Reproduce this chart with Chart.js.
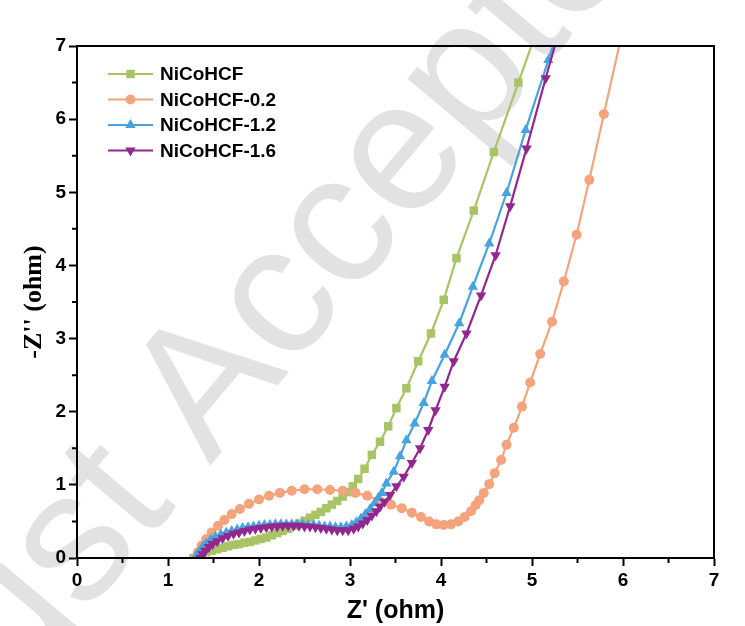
<!DOCTYPE html>
<html>
<head>
<meta charset="utf-8">
<script src="https://cdn.jsdelivr.net/npm/chart.js@4.4.1/dist/chart.umd.min.js"></script>
<style>
  body { margin: 0; background: #fff; }
  #wrap { width: 745px; height: 626px; }
</style>
</head>
<body>
<div id="wrap"><canvas id="myChart" width="745" height="626"></canvas></div>
<script>
// series names
const seriesNames = ['NiCoHCF', 'NiCoHCF-0.2', 'NiCoHCF-1.2', 'NiCoHCF-1.6'];

// [Z', -Z''] points
const nicohcf = [
    [1.28, 0.00], [1.32, 0.03], [1.37, 0.06], [1.42, 0.08], [1.48, 0.10], [1.54, 0.12],
    [1.60, 0.14], [1.66, 0.16], [1.72, 0.18], [1.78, 0.19], [1.84, 0.21], [1.90, 0.22],
    [1.96, 0.24], [2.02, 0.26], [2.08, 0.28], [2.14, 0.31], [2.20, 0.34], [2.26, 0.37],
    [2.32, 0.40], [2.38, 0.44], [2.44, 0.47], [2.50, 0.51], [2.56, 0.55], [2.62, 0.59],
    [2.68, 0.63], [2.74, 0.68], [2.80, 0.73], [2.86, 0.78], [2.92, 0.84], [2.97, 0.90],
    [3.03, 0.98], [3.09, 1.08], [3.16, 1.22], [3.24, 1.41], [3.33, 1.59], [3.42, 1.80],
    [3.51, 2.05], [3.62, 2.32], [3.75, 2.69], [3.89, 3.07], [4.03, 3.53], [4.17, 4.10],
    [4.36, 4.75], [4.58, 5.55], [4.85, 6.50], [5.15, 7.55]
];
const nicohcf02 = [
    [1.30, 0.00], [1.33, 0.08], [1.37, 0.17], [1.42, 0.26], [1.48, 0.35], [1.55, 0.44],
    [1.62, 0.52], [1.70, 0.60], [1.79, 0.67], [1.89, 0.74], [2.00, 0.80], [2.11, 0.85],
    [2.23, 0.89], [2.36, 0.92], [2.50, 0.94], [2.64, 0.94], [2.78, 0.93], [2.92, 0.92],
    [3.06, 0.89], [3.19, 0.85], [3.32, 0.79], [3.45, 0.73], [3.57, 0.68], [3.68, 0.62],
    [3.78, 0.56], [3.87, 0.50], [3.95, 0.46], [4.03, 0.45], [4.11, 0.46], [4.19, 0.50],
    [4.26, 0.56], [4.33, 0.64], [4.38, 0.72], [4.42, 0.79], [4.47, 0.89], [4.53, 1.01],
    [4.59, 1.16], [4.66, 1.34], [4.72, 1.55], [4.80, 1.78], [4.89, 2.07], [4.98, 2.40],
    [5.09, 2.79], [5.22, 3.23], [5.35, 3.78], [5.49, 4.42], [5.63, 5.17], [5.79, 6.07],
    [5.98, 7.12]
];
const nicohcf12 = [
    [1.30, 0.00], [1.32, 0.05], [1.35, 0.10], [1.38, 0.15], [1.42, 0.20], [1.47, 0.25],
    [1.52, 0.29], [1.58, 0.32], [1.64, 0.35], [1.70, 0.37], [1.76, 0.39], [1.82, 0.41],
    [1.88, 0.42], [1.94, 0.43], [2.00, 0.44], [2.06, 0.45], [2.12, 0.45], [2.18, 0.46],
    [2.24, 0.46], [2.30, 0.46], [2.36, 0.46], [2.42, 0.46], [2.48, 0.46], [2.54, 0.45],
    [2.60, 0.45], [2.66, 0.44], [2.72, 0.43], [2.78, 0.43], [2.84, 0.42], [2.90, 0.42],
    [2.96, 0.43], [3.02, 0.45], [3.07, 0.49], [3.12, 0.54], [3.17, 0.60], [3.22, 0.67],
    [3.27, 0.75], [3.31, 0.82], [3.35, 0.89], [3.40, 1.02], [3.48, 1.18], [3.55, 1.39],
    [3.62, 1.61], [3.71, 1.84], [3.81, 2.12], [3.90, 2.42], [4.04, 2.78], [4.20, 3.21],
    [4.35, 3.71], [4.53, 4.30], [4.72, 4.99], [4.93, 5.85], [5.18, 6.81], [5.45, 7.85]
];
const nicohcf16 = [
    [1.36, 0.00], [1.38, 0.05], [1.41, 0.10], [1.45, 0.15], [1.49, 0.19], [1.54, 0.23],
    [1.60, 0.27], [1.66, 0.30], [1.72, 0.33], [1.78, 0.35], [1.84, 0.37], [1.90, 0.39],
    [1.96, 0.40], [2.02, 0.41], [2.08, 0.42], [2.14, 0.43], [2.20, 0.43], [2.26, 0.44],
    [2.32, 0.44], [2.38, 0.44], [2.44, 0.44], [2.50, 0.43], [2.56, 0.43], [2.62, 0.42],
    [2.68, 0.41], [2.74, 0.40], [2.80, 0.39], [2.86, 0.38], [2.92, 0.38], [2.98, 0.38],
    [3.04, 0.40], [3.09, 0.43], [3.14, 0.47], [3.19, 0.52], [3.24, 0.58], [3.29, 0.64],
    [3.33, 0.70], [3.38, 0.77], [3.44, 0.86], [3.51, 0.98], [3.59, 1.11], [3.68, 1.30],
    [3.77, 1.50], [3.86, 1.75], [3.94, 2.02], [4.04, 2.34], [4.14, 2.69], [4.28, 3.07],
    [4.44, 3.59], [4.60, 4.14], [4.76, 4.81], [4.94, 5.60], [5.15, 6.56], [5.40, 7.65]
];

// axis ticks
const xTicks = [0, 1, 2, 3, 4, 5, 6, 7];
const yTicks = [0, 1, 2, 3, 4, 5, 6, 7];

const colors = ['#a9c466', '#f4a47c', '#47a3de', '#93278f'];
const styles = [
    { pointStyle: 'rect', radius: 6, rotation: 0 },
    { pointStyle: 'circle', radius: 5, rotation: 0 },
    { pointStyle: 'triangle', radius: 6, rotation: 0 },
    { pointStyle: 'triangle', radius: 6, rotation: 180 }
];
const allSeries = [nicohcf, nicohcf02, nicohcf12, nicohcf16];

const datasets = allSeries.map(function (pts, i) {
    return {
        label: seriesNames[i],
        data: pts.map(p => ({ x: p[0], y: p[1] })),
        showLine: true,
        borderColor: colors[i],
        backgroundColor: colors[i],
        borderWidth: 2.2,
        pointStyle: styles[i].pointStyle,
        pointRadius: styles[i].radius,
        pointRotation: styles[i].rotation,
        pointBorderWidth: 0,
        order: 4 - i
    };
});

// white page and the faint watermark behind the plot
const background = {
    id: 'background',
    beforeDraw(chart) {
        const ctx = chart.ctx;
        ctx.save();
        ctx.fillStyle = '#ffffff';
        ctx.fillRect(0, 0, chart.width, chart.height);
        ctx.translate(210, 466);
        ctx.rotate(-50 * Math.PI / 180);
        ctx.font = '185px "Liberation Sans", Arial, sans-serif';
        ctx.fillStyle = '#e2e2e2';
        ctx.textBaseline = 'alphabetic';
        ctx.fillText('Just Accepted', -ctx.measureText('Just ').width, 0);
        ctx.restore();
    }
};

// box around the plot, minor ticks, legend inside top-left
const frame = {
    id: 'frame',
    afterDraw(chart) {
        const ctx = chart.ctx;
        const a = chart.chartArea;
        const xs = chart.scales.x, ys = chart.scales.y;
        ctx.save();
        ctx.strokeStyle = '#000';
        ctx.lineWidth = 2;
        ctx.strokeRect(a.left, a.top, a.right - a.left, a.bottom - a.top);
        ctx.beginPath();
        for (let v = 0.5; v < 7; v += 1) {
            const px = xs.getPixelForValue(v);
            ctx.moveTo(px, a.bottom);
            ctx.lineTo(px, a.bottom + 5);
            const py = ys.getPixelForValue(v);
            ctx.moveTo(a.left, py);
            ctx.lineTo(a.left - 5, py);
        }
        ctx.stroke();

        chart.data.datasets.forEach(function (ds, i) {
            const y = 74 + i * 25.5;
            ctx.strokeStyle = colors[i];
            ctx.fillStyle = colors[i];
            ctx.lineWidth = 2.2;
            ctx.beginPath();
            ctx.moveTo(108, y);
            ctx.lineTo(153, y);
            ctx.stroke();
            Chart.helpers.drawPoint(ctx, {
                pointStyle: styles[i].pointStyle,
                radius: styles[i].radius,
                rotation: styles[i].rotation,
                borderWidth: 0
            }, 130.5, y);
            ctx.fillStyle = '#000';
            ctx.font = 'bold 19px "Liberation Sans", Arial, sans-serif';
            ctx.textBaseline = 'middle';
            ctx.textAlign = 'left';
            ctx.fillText(ds.label, 160, y + 1);
        });
        ctx.restore();
    }
};

const tickFont = { family: '"Liberation Sans", Arial, sans-serif', size: 19, weight: 'bold' };

const config = {
    type: 'scatter',
    data: { datasets },
    options: {
        responsive: false,
        animation: false,
        layout: { padding: { top: 46, right: 31, left: 15, bottom: 0 } },
        plugins: {
            legend: { display: false },
            tooltip: { enabled: false }
        },
        scales: {
            x: {
                type: 'linear',
                min: 0,
                max: 7,
                afterFit(scale) { scale.height = 68; },
                afterBuildTicks(scale) { scale.ticks = xTicks.map(v => ({ value: v })); },
                ticks: { font: tickFont, color: '#000', padding: 3, autoSkip: false, maxRotation: 0 },
                grid: { drawOnChartArea: false, tickLength: 8, tickColor: '#000', tickWidth: 2 },
                border: { color: '#000', width: 2 },
                title: {
                    display: true,
                    text: "Z' (ohm)",
                    color: '#000',
                    padding: { top: 0, bottom: 0 },
                    font: { family: '"Liberation Sans", Arial, sans-serif', size: 25, weight: 'bold' }
                }
            },
            y: {
                type: 'linear',
                min: 0,
                max: 7,
                afterFit(scale) { scale.width = 62; },
                afterBuildTicks(scale) { scale.ticks = yTicks.map(v => ({ value: v })); },
                ticks: { font: tickFont, color: '#000', padding: 3, autoSkip: false },
                grid: { drawOnChartArea: false, tickLength: 8, tickColor: '#000', tickWidth: 2 },
                border: { color: '#000', width: 2 },
                title: {
                    display: true,
                    text: "-Z'' (ohm)",
                    color: '#000',
                    padding: { top: 4, bottom: 4 },
                    font: { family: '"Liberation Serif", "Times New Roman", serif', size: 26, weight: 'bold' }
                }
            }
        }
    },
    plugins: [background, frame]
};

const myChart = new Chart(
    document.getElementById('myChart').getContext('2d'),
    config
);
</script>
</body>
</html>
